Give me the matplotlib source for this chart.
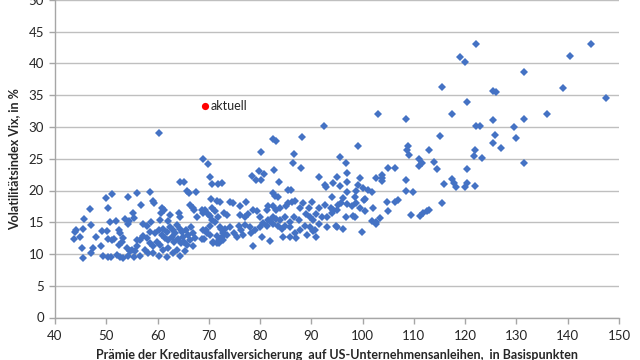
import matplotlib
matplotlib.use("Agg")
import matplotlib.pyplot as plt

# Credit default swap premium (bp) and VIX (%)
cds = [
    # x < 55
    51.2, 49.9, 54.2, 46.8, 50.4, 45.7, 47.0, 44.1, 43.9, 45.5, 43.8, 44.9, 49.1, 50.2, 48.0,
    51.9, 50.7, 53.7, 54.5, 54.2, 52.7, 52.4, 51.1, 51.5, 50.4, 53.3, 53.0, 47.5, 49.0, 45.2,
    52.4, 47.0, 49.4, 50.4, 50.9, 52.0, 52.7, 45.5, 53.3, 54.3, 54.6, 54.1,
    # 55 - 72
    68.9, 69.9, 70.2, 70.6, 64.3, 65.2, 71.7, 65.7, 66.2, 67.5, 58.5, 55.9, 70.4, 71.5, 59.2,
    59.3, 56.8, 55.3, 60.9, 61.3, 60.6, 62.4, 64.1, 64.4, 66.3, 66.9, 67.2, 68.6, 68.9, 67.6,
    55.4, 57.1, 57.9, 58.7, 60.5, 62.1, 70.2, 70.6, 69.5, 71.5, 70.9, 71.9, 68.6, 69.1, 60.2,
    58.5, 59.5, 60.2, 60.8, 61.1, 61.8, 62.4, 63.0, 63.4, 63.7, 64.3, 64.7, 65.0, 65.5, 66.0,
    66.5, 67.0, 67.3, 61.5, 62.1, 62.8, 63.2, 63.9, 64.5, 65.2, 65.8, 66.3, 66.9, 59.8, 60.5,
    59.2, 58.5, 57.9, 57.2, 56.6, 55.9, 55.6, 56.5, 57.6, 58.2, 59.2, 60.2, 61.1, 62.1, 63.0,
    63.7, 64.4, 65.4, 61.8, 55.9, 55.1, 55.4,
    71.7, 71.2, 71.2, 69.3, 69.9, 70.2, 70.6, 68.9, 69.6, 70.2, 70.9, 71.5, 71.9,
    # 72 - 91
    82.6, 83.1, 88.1, 80.2, 86.6, 86.4, 87.9, 82.7, 78.4, 79.7, 80.8, 79.2, 80.1, 83.6, 72.5,
    85.5, 86.0, 82.6, 82.9, 83.4,
    72.2, 74.1, 74.8, 76.0, 77.2, 78.7, 79.3, 81.3, 81.6, 82.6, 83.2, 83.9, 85.1, 85.5, 86.2,
    86.8, 87.8, 88.4, 89.6, 90.1, 76.1, 77.1, 77.7, 80.0, 81.6, 82.5, 83.1, 83.9, 84.9, 85.8,
    86.6, 87.5, 89.0, 89.7, 90.4,
    72.2, 73.2, 74.1, 74.9, 75.8, 76.2, 77.1, 78.0, 79.0, 80.0, 80.6, 81.3, 81.9, 82.6, 83.4,
    84.2, 84.9, 85.8, 86.8, 87.8, 88.8, 89.7, 90.7, 72.5, 73.5, 75.4, 76.7, 78.2, 80.3, 81.9,
    84.5, 85.8, 87.1, 89.2, 91.0, 78.7, 72.8, 73.0, 73.5, 72.3, 72.8, 90.4,
    # 91 - 103
    92.5, 99.0, 95.6, 96.7, 97.0, 91.4, 92.7, 92.9, 94.2, 95.0, 95.5, 96.9, 97.0, 99.5, 99.0,
    98.8, 100.1, 101.1, 101.9, 102.6, 102.9,
    91.4, 92.7, 93.8, 94.3, 95.1, 95.7, 96.9, 97.9, 98.8, 99.4, 100.3, 102.0, 92.0, 93.0, 94.0,
    95.0, 96.8, 98.1, 98.5, 100.5, 91.0, 94.0, 96.2, 98.5, 100.5,
    91.4, 93.0, 95.0, 96.2, 99.8, 101.8, 102.6, 94.8, 102.7,
    # >= 103
    103.4, 103.8, 103.8, 103.8, 105.0, 106.4, 106.3, 106.8, 105.0, 108.5, 108.9, 108.6, 109.1,
    108.5, 108.5, 109.9, 109.5, 111.2, 111.8, 112.5, 113.0, 115.4, 115.9, 117.4, 117.9, 118.2,
    120.0, 120.4, 122.0, 110.9, 111.5, 110.9, 114.0, 114.6, 113.0, 120.4, 121.7, 122.0, 123.2,
    131.5, 115.0, 125.9, 125.4, 130.0, 127.0, 122.1, 122.9, 129.5, 125.4, 131.5, 135.9, 117.5,
    120.4, 147.5, 125.5, 126.0, 115.4, 139.0, 131.5, 119.0, 120.0, 140.5, 122.2, 144.5, 104.7,
]

vix = [
    # x < 55
    19.4, 18.8, 19.0, 17.1, 17.3, 15.5, 14.6, 13.8, 13.4, 14.0, 12.3, 12.6, 13.7, 13.7, 12.7,
    15.2, 15.0, 15.5, 15.2, 14.7, 13.3, 13.8, 12.2, 12.3, 12.3, 12.5, 11.9, 11.0, 11.2, 11.0,
    11.4, 10.2, 9.7, 9.5, 9.6, 9.8, 9.6, 9.3, 9.4, 9.7, 10.5, 10.9,
    # 55 - 72
    24.9, 24.2, 22.1, 21.0, 21.4, 21.4, 21.1, 20.0, 19.55, 19.8, 19.8, 19.6, 18.7, 18.4, 18.4,
    18.0, 17.7, 16.5, 17.2, 16.9, 16.5, 16.1, 16.4, 15.9, 17.7, 17.3, 17.0, 17.0, 16.5, 15.9,
    15.6, 14.7, 14.4, 15.1, 15.4, 15.2, 16.0, 15.4, 13.8, 12.8, 11.8, 11.7, 12.3, 12.3, 29.1,
    13.5, 13.3, 13.8, 13.0, 14.0, 13.5, 14.3, 13.8, 13.3, 14.6, 14.0, 13.5, 12.7, 13.8, 13.0,
    14.3, 13.3, 12.5, 12.5, 12.2, 12.6, 11.9, 12.3, 11.7, 11.9, 11.4, 12.2, 11.2, 11.9, 11.4,
    11.2, 11.7, 12.5, 12.8, 12.2, 11.2, 10.4, 9.7, 10.6, 10.1, 10.1, 9.7, 10.6, 10.9, 10.2,
    10.6, 9.7, 10.4, 9.6, 12.2, 10.6, 9.6,
    15.9, 16.7, 15.1, 17.0, 16.3, 14.4, 17.2, 13.8, 13.3, 13.0, 11.9, 11.7, 12.2,
    # 72 - 91
    28.1, 27.8, 28.5, 26.0, 25.7, 24.4, 23.6, 23.2, 22.3, 23.1, 22.6, 21.6, 21.6, 21.4, 21.2,
    20.1, 20.1, 19.6, 19.1, 18.9,
    18.2, 18.2, 18.1, 17.6, 18.2, 17.0, 16.8, 17.0, 17.6, 17.5, 16.9, 17.3, 17.6, 18.1, 18.2,
    18.4, 17.3, 18.1, 17.3, 18.2, 16.1, 15.9, 16.3, 15.8, 15.4, 15.9, 15.5, 15.4, 15.9, 15.1,
    15.9, 15.4, 16.3, 15.9, 15.4,
    14.3, 13.9, 14.2, 13.3, 14.4, 13.8, 14.6, 14.2, 13.8, 14.2, 14.9, 14.4, 15.2, 14.7, 14.4,
    14.0, 14.4, 14.2, 13.3, 13.8, 14.4, 14.2, 13.8, 12.7, 13.0, 12.6, 13.0, 13.3, 12.6, 12.1,
    12.7, 12.6, 12.5, 13.0, 12.7, 11.3, 12.2, 16.4, 16.1, 14.0, 13.3, 13.7,
    # 91 - 103
    30.2, 27.0, 25.3, 24.4, 22.8, 22.1, 20.9, 20.6, 21.2, 22.2, 20.7, 21.3, 19.7, 21.9, 20.8,
    20.0, 20.4, 20.1, 19.7, 22.0, 32.1,
    17.3, 17.7, 17.3, 17.0, 17.7, 18.0, 17.9, 17.6, 18.1, 17.3, 18.5, 17.3, 15.9, 15.8, 16.4,
    17.0, 15.9, 16.0, 15.8, 16.8, 16.3, 18.9, 18.8, 18.9, 18.6,
    14.8, 14.3, 14.3, 13.9, 13.4, 15.2, 14.7, 14.4, 15.1,
    # >= 103
    15.6, 22.4, 21.9, 21.5, 23.5, 23.5, 18.2, 18.5, 16.7, 31.3, 27.0, 26.3, 25.6,
    21.7, 19.9, 19.8, 16.1, 16.0, 16.5, 16.8, 16.9, 18.1, 21.0, 21.8, 21.2, 20.5,
    20.6, 21.2, 20.7, 25.0, 24.4, 23.9, 24.5, 23.4, 26.3, 23.4, 25.4, 26.3, 25.1,
    24.3, 28.6, 28.8, 27.5, 28.3, 26.7, 30.2, 30.2, 30.0, 31.1, 31.3, 32.0, 32.1,
    33.9, 34.6, 35.7, 35.5, 36.3, 36.2, 38.6, 41.1, 40.2, 41.2, 43.1, 43.0, 18.2,
]

current_cds = [69.3]
current_vix = [33.3]
current_label = "aktuell"

x_ticks = [40, 50, 60, 70, 80, 90, 100, 110, 120, 130, 140, 150]
y_ticks = [0, 5, 10, 15, 20, 25, 30, 35, 40, 45, 50]
x_title = "Prämie der Kreditausfallversicherung  auf US-Unternehmensanleihen,  in Basispunkten"
y_title = "Volatilitätsindex Vix, in %"

plt.rcParams["font.family"] = ["Lato", "DejaVu Sans"]

fig = plt.figure(figsize=(6.4, 3.6), dpi=100)
ax = fig.add_axes([55 / 640, 1 - 317.5 / 360, (619 - 55) / 640, 317.5 / 360])

ax.plot(cds, vix, linestyle="none", marker="D", markersize=3.8,
        color="#4472C4", markeredgewidth=0, zorder=3)
ax.plot(current_cds, current_vix, linestyle="none", marker="o", markersize=5.2,
        color="#FF0000", markeredgewidth=0, zorder=4)
ax.annotate(current_label, (current_cds[0], current_vix[0]), xytext=(4, 0),
            textcoords="offset points", va="center", ha="left", fontsize=9, color="#262626")

ax.set_xlim(40, 150)
ax.set_ylim(0, 50)
ax.set_xticks(x_ticks)
ax.set_yticks(y_ticks)
ax.yaxis.grid(True, color="#BFBFBF", linewidth=1)
ax.set_axisbelow(True)
for s in ["top", "right"]:
    ax.spines[s].set_visible(False)
for s in ["left", "bottom"]:
    ax.spines[s].set_color("#A6A6A6")
    ax.spines[s].set_linewidth(1)
ax.tick_params(axis="both", colors="#A6A6A6", length=4, width=1, labelsize=9.5,
               labelcolor="#262626")
ax.tick_params(axis="x", pad=5)
ax.tick_params(axis="y", pad=4)

ax.set_xlabel(x_title, fontsize=9, fontweight="bold", color="#262626", labelpad=5)
ax.set_ylabel(y_title, fontsize=9, fontweight="bold", color="#262626", labelpad=6)

fig.savefig("out.png", dpi=100)
